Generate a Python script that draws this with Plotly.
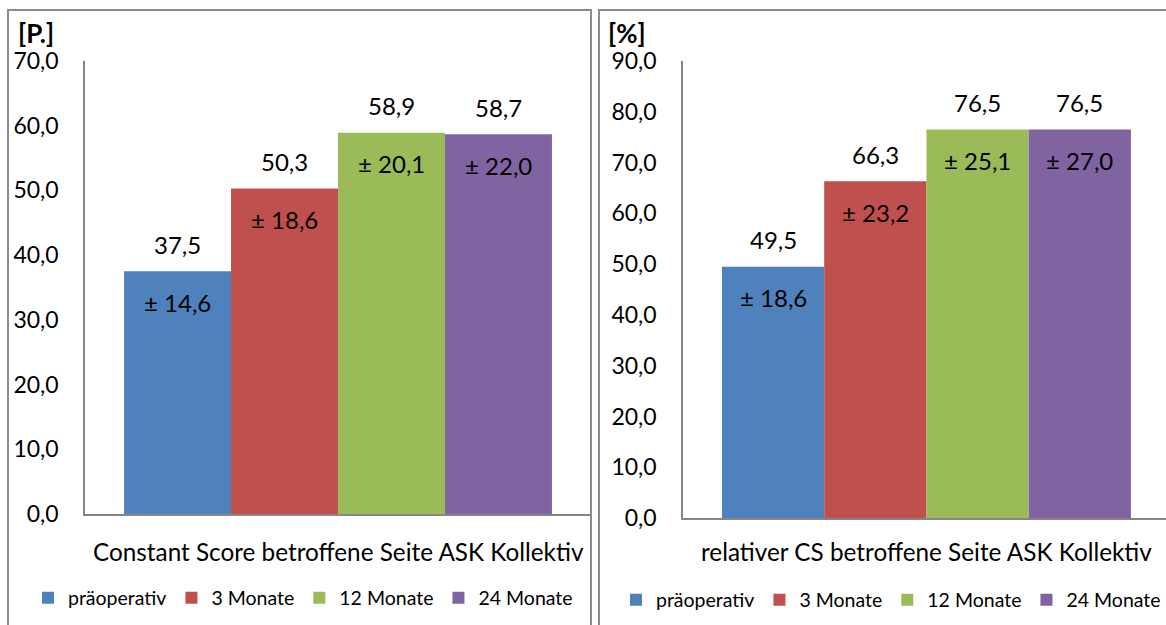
import plotly.graph_objects as go

# Data
periods = ["präoperativ", "3 Monate", "12 Monate", "24 Monate"]
colors = ["#4F81BD", "#C0504D", "#9BBB59", "#8064A2"]

cs_mean = [37.5, 50.3, 58.9, 58.7]
cs_sd = [14.6, 18.6, 20.1, 22.0]

rel_mean = [49.5, 66.3, 76.5, 76.5]
rel_sd = [18.6, 23.2, 25.1, 27.0]

left_title = "Constant Score betroffene Seite ASK Kollektiv"
right_title = "relativer CS betroffene Seite ASK Kollektiv"
left_unit = "[P.]"
right_unit = "[%]"

FONT = "Lato"
W, H = 1166, 625


def de(v):
    return f"{v:.1f}".replace(".", ",")


def px(x):
    return x / W


def py(y):
    return (H - y) / H


fig = go.Figure()

panels = [
    (cs_mean, cs_sd, "x", "y", "legend"),
    (rel_mean, rel_sd, "x2", "y2", "legend2"),
]

for means, sds, xa, ya, lg in panels:
    for i, (name, col, m) in enumerate(zip(periods, colors, means)):
        fig.add_trace(go.Bar(
            x=[i], y=[m], width=1, name=name,
            marker=dict(color=col, line=dict(width=0)),
            xaxis=xa, yaxis=ya, legend=lg, hoverinfo="skip",
        ))
    for i, (m, s) in enumerate(zip(means, sds)):
        fig.add_annotation(x=i, y=m, xref=xa, yref=ya, text=de(m),
                           showarrow=False, yshift=27,
                           font=dict(family=FONT, size=24, color="#000"))
        fig.add_annotation(x=i, y=m, xref=xa, yref=ya, text="± " + de(s),
                           showarrow=False, yshift=-31,
                           font=dict(family=FONT, size=24, color="#000"))

axis_common = dict(showgrid=False, zeroline=False, showline=True,
                   linecolor="#868686", linewidth=1.5, ticks="")
yaxis_common = dict(axis_common, tickformat=".1f", dtick=10,
                    tickfont=dict(family=FONT, size=23, color="#000"),
                    ticklabelstandoff=20)
xaxis_common = dict(axis_common, showticklabels=False, mirror=False)

fig.update_layout(
    width=W, height=H,
    margin=dict(l=0, r=0, t=0, b=0, autoexpand=False),
    paper_bgcolor="white", plot_bgcolor="white",
    separators=",.",
    barmode="overlay",
    showlegend=True,
    xaxis=dict(xaxis_common, domain=[px(85), px(591)], range=[-0.865, 3.865]),
    yaxis=dict(yaxis_common, domain=[py(514), py(61)], range=[0, 70]),
    xaxis2=dict(xaxis_common, anchor="y2", domain=[px(683), 1.0],
                range=[-0.881, 3.843]),
    yaxis2=dict(yaxis_common, anchor="x2", domain=[py(518), py(61)],
                range=[0, 90]),
    legend=dict(orientation="h", x=px(28), y=py(598), xanchor="left",
                yanchor="middle", font=dict(family=FONT, size=19.5, color="#000"),
                bgcolor="rgba(0,0,0,0)", itemclick=False),
    legend2=dict(orientation="h", x=px(616), y=py(600), xanchor="left",
                 yanchor="middle", font=dict(family=FONT, size=19.5, color="#000"),
                 bgcolor="rgba(0,0,0,0)", itemclick=False),
)

# Panel frames
fig.add_shape(type="rect", xref="paper", yref="paper",
              x0=px(8), x1=px(591), y0=-0.05, y1=py(10),
              line=dict(color="#8c8c8c", width=2), layer="below")
fig.add_shape(type="rect", xref="paper", yref="paper",
              x0=px(599), x1=1.05, y0=-0.05, y1=py(10),
              line=dict(color="#8c8c8c", width=2), layer="below")

# Unit labels and category titles
fig.add_annotation(xref="paper", yref="paper", x=px(16), y=py(33),
                   xanchor="left", yanchor="middle", showarrow=False,
                   text="<b>" + left_unit + "</b>",
                   font=dict(family=FONT, size=26, color="#000"))
fig.add_annotation(xref="paper", yref="paper", x=px(606), y=py(33),
                   xanchor="left", yanchor="middle", showarrow=False,
                   text="<b>" + right_unit + "</b>",
                   font=dict(family=FONT, size=26, color="#000"))
fig.add_annotation(xref="paper", yref="paper", x=px(338), y=py(551),
                   xanchor="center", yanchor="middle", showarrow=False,
                   text=left_title,
                   font=dict(family=FONT, size=24.3, color="#000"))
fig.add_annotation(xref="paper", yref="paper", x=px(926), y=py(551),
                   xanchor="center", yanchor="middle", showarrow=False,
                   text=right_title,
                   font=dict(family=FONT, size=24.3, color="#000"))

fig.write_html("out.html")
